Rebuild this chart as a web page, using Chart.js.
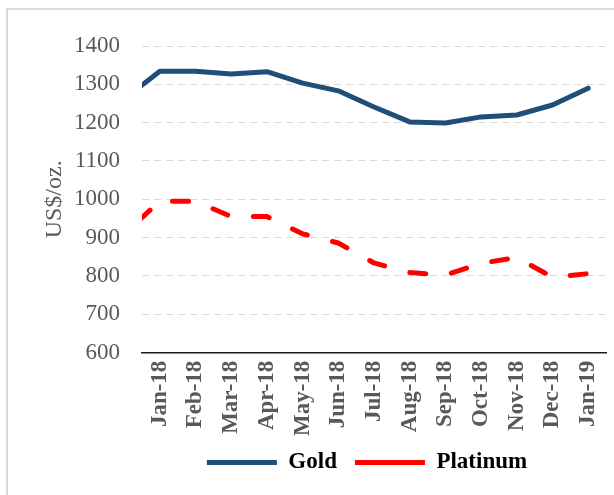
<!DOCTYPE html>
<html>
<head>
<meta charset="utf-8">
<script src="https://cdn.jsdelivr.net/npm/chart.js@4"></script>
<style>
  html, body { margin: 0; padding: 0; background: #fff; }
  #wrap { position: relative; width: 614px; height: 495px; overflow: hidden; }
  #frame { position: absolute; left: 6px; top: 8px; width: 620px; height: 500px; border: 2px solid #D9D9D9; box-sizing: border-box; }
  #chart { position: absolute; left: 0; top: 0; }
</style>
</head>
<body>
<div id="wrap">
  <div id="frame"></div>
  <canvas id="chart" width="614" height="495"></canvas>
</div>
<script>
// month labels shown on the axis
var months = ['Jan-18', 'Feb-18', 'Mar-18', 'Apr-18', 'May-18', 'Jun-18', 'Jul-18',
              'Aug-18', 'Sep-18', 'Oct-18', 'Nov-18', 'Dec-18', 'Jan-19'];
// first value is Dec-17, the line comes in from the left edge
var goldValues = [1262, 1334, 1334, 1327, 1333, 1303, 1283, 1241, 1202, 1199, 1215, 1220, 1246, 1290];
var platinumValues = [910, 995, 995, 955, 955, 910, 886, 834, 809, 802, 833, 848, 797, 806];
var yTicks = [600, 700, 800, 900, 1000, 1100, 1200, 1300, 1400];

function toPoints(vals) {
    return vals.map(function(v, i) {
        return { x: i - 1, y: v };
    });
}

var serif = "'Liberation Serif', 'Times New Roman', serif";

// move the legend so it sits under the plot like the original
var legendShift = {
    id: 'legendShift',
    afterLayout: function(chart) {
        chart.legend.left = chart.chartArea.left - 14;
        chart.legend.right = chart.chartArea.right;
        chart.legend.top -= 11;
    }
};

var ctx = document.getElementById('chart').getContext('2d');
var myChart = new Chart(ctx, {
    type: 'line',
    data: {
        datasets: [{
            label: 'Gold',
            data: toPoints(goldValues),
            borderColor: '#1F4E79',
            backgroundColor: '#1F4E79',
            borderWidth: 5,
            borderCapStyle: 'round',
            borderJoinStyle: 'round',
            pointRadius: 0,
            tension: 0
        }, {
            label: 'Platinum',
            data: toPoints(platinumValues),
            borderColor: '#FF0000',
            backgroundColor: '#FF0000',
            borderWidth: 5,
            borderDash: [16, 26],
            borderDashOffset: 23,
            borderCapStyle: 'round',
            borderJoinStyle: 'round',
            pointRadius: 0,
            tension: 0
        }]
    },
    plugins: [legendShift],
    options: {
        responsive: false,
        animation: false,
        layout: {
            padding: { left: 40, right: 8, top: 46, bottom: 0 }
        },
        plugins: {
            tooltip: { enabled: false },
            legend: {
                position: 'bottom',
                labels: {
                    usePointStyle: true,
                    pointStyle: 'line',
                    pointStyleWidth: 70,
                    boxHeight: 4,
                    padding: 18,
                    color: '#000',
                    font: { family: serif, size: 23, weight: 'bold' }
                }
            }
        },
        scales: {
            x: {
                type: 'linear',
                min: -0.5,
                max: 12.5,
                afterBuildTicks: function(scale) {
                    scale.ticks = months.map(function(m, i) { return { value: i }; });
                },
                afterFit: function(scale) {
                    scale.paddingLeft = 0;
                    scale.paddingRight = 0;
                },
                grid: { display: false, drawTicks: false },
                border: { display: true, color: '#1a1a1a', width: 1.5 },
                ticks: {
                    autoSkip: false,
                    minRotation: 90,
                    maxRotation: 90,
                    padding: 8,
                    color: '#595959',
                    font: { family: serif, size: 23, weight: 'bold' },
                    callback: function(v) { return months[v]; }
                }
            },
            y: {
                min: 600,
                max: 1400,
                afterBuildTicks: function(scale) {
                    scale.ticks = yTicks.map(function(v) { return { value: v }; });
                },
                afterFit: function(scale) {
                    scale.width = 102;
                },
                grid: { color: '#D9D9D9', lineWidth: 1, drawTicks: false },
                border: { display: false, dash: [7, 5] },
                ticks: {
                    padding: 22,
                    color: '#595959',
                    font: { family: serif, size: 23 },
                    callback: function(v) { return String(v); }
                },
                title: {
                    display: true,
                    text: 'US$/oz.',
                    color: '#595959',
                    padding: { top: 0, bottom: 2 },
                    font: { family: serif, size: 24 }
                }
            }
        }
    }
});
</script>
</body>
</html>
